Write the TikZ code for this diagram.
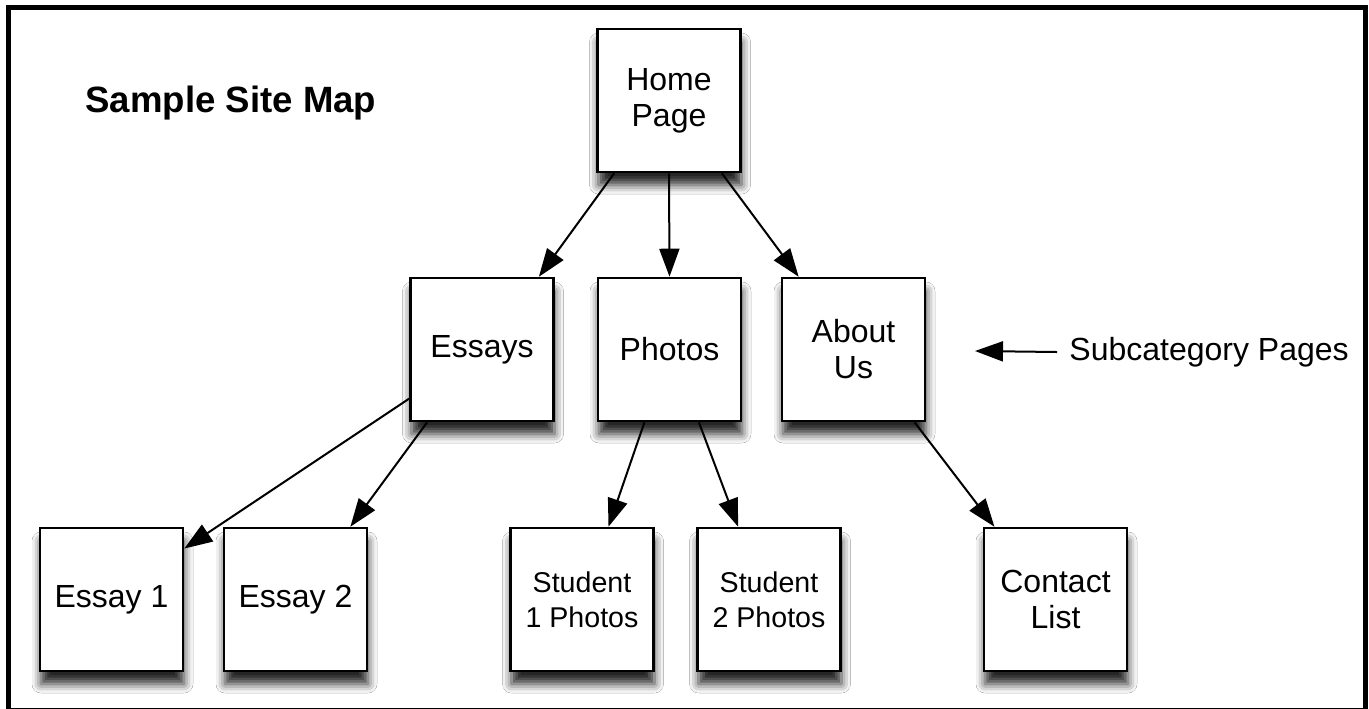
\documentclass[tikz,border=0pt]{standalone}
\usepackage{fontspec}
\setmainfont{Liberation Sans}
\usetikzlibrary{arrows.meta,shadows.blur}
\begin{document}
\begin{tikzpicture}[x=0.5pt,y=-0.5pt,
    page/.style={draw,line width=1.3pt,fill=white,minimum width=71.5pt,minimum height=71.5pt,
        align=center,inner sep=0pt,font=\fontsize{16}{18}\selectfont,
        blur shadow={shadow xshift=0.5pt,shadow yshift=-6.5pt,shadow blur radius=4.5pt,shadow opacity=85}},
    small/.style={font=\fontsize{14.3}{17.5}\selectfont},
    link/.style={line width=1pt,-{Triangle[length=14pt,width=10pt]}}]
    \useasboundingbox (0,0) rectangle (1369,708);
    \fill[white] (0,0) rectangle (1369,708);
    \draw[line width=2.5pt] (8.5,7.5) rectangle (1365.5,710);
    \node[anchor=base west,inner sep=0pt,font=\fontsize{18.3}{22}\selectfont\bfseries] (title) at (85,112) {Sample Site Map};
    \node[page] (home) at (669,100.5) {Home\\Page};
    \node[page] (essays) at (482,349.5) {Essays};
    \node[page] (photos) at (669.5,349.5) {Photos};
    \node[page] (about) at (853.5,349.5) {About\\Us};
    \node[page] (essay1) at (111.5,599.5) {Essay 1};
    \node[page] (essay2) at (295.5,599.5) {Essay 2};
    \node[page,small] (student1) at (582,599.5) {Student\\1 Photos};
    \node[page,small] (student2) at (769,599.5) {Student\\2 Photos};
    \node[page] (contact) at (1055.5,599.5) {Contact\\List};
    \draw[link] (home.233) -- (essays.52);
    \draw[link] (home.south) -- (photos.north);
    \draw[link] (home.306) -- (about.127);
    \draw[link] (essays.214) -- (essay1.35);
    \draw[link] (essays.233) -- (essay2.53);
    \draw[link] (photos.251) -- (student1.70);
    \draw[link] (photos.292) -- (student2.113);
    \draw[link] (about.310) -- (contact.130);
    \node[anchor=west,inner sep=0pt,font=\fontsize{16}{18}\selectfont] (subcat) at (1069,352) {Subcategory Pages};
    \coordinate (subtip) at (975,351);
    \draw[link] ([xshift=-6pt]subcat.west) -- (subtip);
\end{tikzpicture}
\end{document}
